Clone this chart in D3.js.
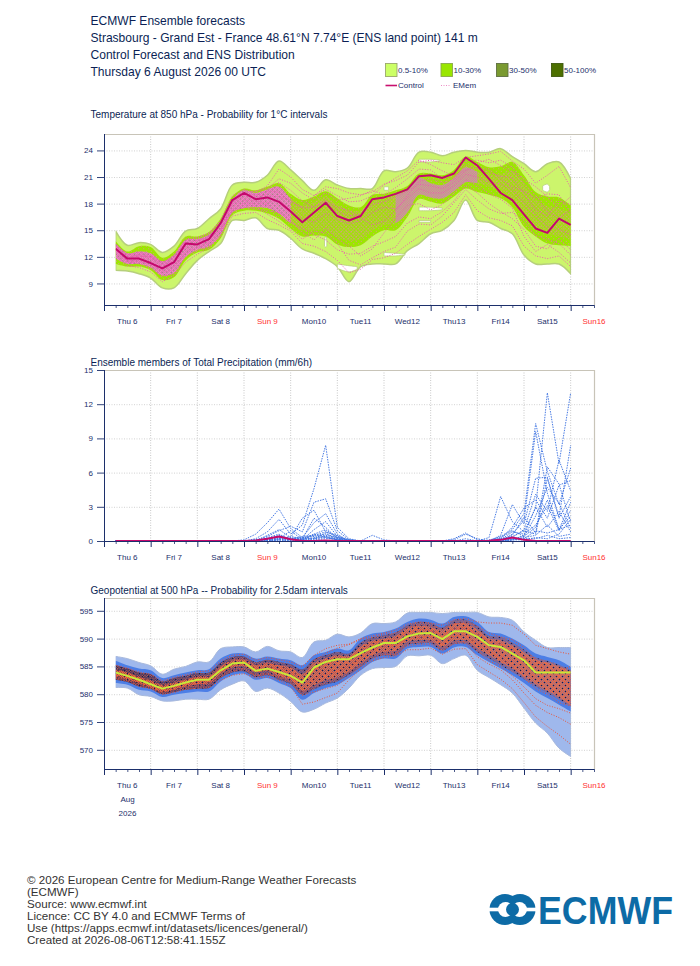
<!DOCTYPE html>
<html><head><meta charset="utf-8">
<script src="https://cdn.jsdelivr.net/npm/d3@7"></script>
<style>html,body{margin:0;padding:0;background:#fff}svg{display:block;font-family:"Liberation Sans",Arial,sans-serif}</style>
</head><body><svg id="c" width="700" height="966"></svg>
<script>
const stepHours=[6,12,18,24,30,36,42,48,54,60,66,72,78,84,90,96,102,108,114,120,126,132,138,144,150,156,162,168,174,180,186,192,198,204,210,216,222,228,234,240];
const dayLabels=["Thu 6","Fri 7","Sat 8","Sun 9","Mon10","Tue11","Wed12","Thu13","Fri14","Sat15","Sun16"];
const headerLines=["ECMWF Ensemble forecasts","Strasbourg - Grand Est - France 48.61°N 7.74°E (ENS land point) 141 m","Control Forecast and ENS Distribution","Thursday 6 August 2026 00 UTC"];
const footerLines=["© 2026 European Centre for Medium-Range Weather Forecasts","(ECMWF)","Source: www.ecmwf.int","Licence: CC BY 4.0 and ECMWF Terms of","Use (https://apps.ecmwf.int/datasets/licences/general/)","Created at 2026-08-06T12:58:41.155Z"];
const legendBands=["0.5-10%","10-30%","30-50%","50-100%"];
const tempTicks=[9,12,15,18,21,24], rainTicks=[0,3,6,9,12,15], geoTicks=[570,575,580,585,590,595];

// Temperature 850 hPa
const tControl=[12.9,11.8,11.8,11.3,10.7,11.4,13.5,13.4,14.0,15.8,18.4,19.2,18.5,18.7,18.2,17.1,15.9,17.0,18.1,16.6,16.1,16.6,18.5,18.7,19.1,19.6,21.1,21.2,20.9,21.4,23.2,22.3,20.8,19.2,18.4,16.8,15.2,14.7,16.3,15.6];
const tOuterHi=[14.9,13.3,13.6,13.4,12.5,13.2,14.9,15.2,16.3,17.4,20.1,20.4,20.4,21.2,22.8,21.8,20.6,19.5,20.7,20.1,19.7,19.7,19.7,21.7,21.6,22.0,23.8,23.8,23.4,23.8,24.0,23.8,23.8,24.2,23.3,22.5,21.6,22.5,22.7,20.8];
const tOuterLo=[10.5,10.4,10.1,9.6,8.5,8.5,10.1,11.6,12.6,13.5,16.1,16.1,16.4,15.2,15.0,14.1,12.9,12.4,11.8,10.9,9.2,10.9,11.2,11.2,11.2,12.7,13.5,14.6,15.0,16.1,18.4,16.1,15.9,15.2,14.6,12.2,11.2,11.2,11.2,10.1];
const tMidHi=[13.8,12.6,13.2,13.1,11.9,12.6,14.3,14.3,14.8,16.3,18.8,19.7,19.5,19.9,20.3,19.1,18.4,18.8,19.4,18.6,17.8,17.6,19.0,19.1,19.5,20.0,21.4,21.4,21.2,21.8,23.3,22.7,22.1,22.2,22.7,21.2,19.3,18.8,18.7,17.8];
const tMidLo=[11.2,10.9,10.9,10.5,9.4,9.7,11.6,12.5,12.8,14.1,16.7,17.2,17.2,16.9,16.3,15.2,14.3,14.4,14.3,13.4,13.1,13.3,14.3,15.0,15.0,16.5,18.5,18.2,18.0,18.8,19.7,19.3,19.0,18.6,17.6,15.4,14.3,13.5,13.3,13.2];
const tCoreHi=[13.5,12.4,12.6,12.4,11.5,12.2,13.9,14.0,14.5,15.9,18.4,19.5,19.2,19.6,19.9,18.6,17.8,18.2,18.8,17.9,17.3,17.2,18.4,18.6,19.0,19.5,20.9,20.3,20.1,20.9,22.1,21.6,21.3,21.3,21.7,20.2,18.5,17.7,17.5,16.8];
const tCoreLo=[11.8,11.2,11.2,10.8,9.9,10.2,12.0,12.8,13.2,14.5,17.0,17.5,17.6,17.5,16.9,15.8,15.0,15.0,15.0,14.2,13.8,14.0,15.0,15.6,15.8,17.0,19.0,18.7,18.6,19.4,20.4,20.3,19.9,19.5,18.5,16.5,15.3,14.6,14.3,14.0];
const tMem1=[13.4,12.2,12.5,12.2,11.4,12.0,13.8,14.1,14.6,16.2,18.9,19.6,19.3,20.0,21.9,21.0,19.6,18.9,19.9,19.7,19.2,19.0,19.3,20.2,20.6,21.2,22.7,22.9,22.6,22.4,23.2,23.4,23.6,23.9,22.8,21.9,20.3,21.2,22.2,19.8];
const tMem2=[12.2,11.0,10.8,10.3,9.2,9.9,11.4,12.3,13.0,14.3,16.6,16.9,17.0,16.2,15.6,14.9,13.5,13.2,12.6,11.6,10.2,10.6,11.7,11.9,12.4,13.4,14.3,15.1,15.9,17.0,19.0,17.2,16.4,16.1,15.5,13.2,12.1,11.8,12.1,10.9];
const tMem3=[13.1,12.0,12.2,11.7,10.9,11.8,13.2,13.7,14.2,15.4,17.9,18.8,18.9,19.4,19.3,18.2,17.6,18.9,19.6,18.9,18.2,18.3,18.9,20.1,20.9,21.7,22.9,22.4,21.7,21.1,21.8,22.0,21.5,21.1,20.9,19.1,17.3,16.6,18.3,17.9];
const tMem4=[12.6,11.5,11.6,11.0,10.2,10.6,12.6,13.1,13.7,15.0,17.4,18.1,18.0,17.9,16.5,15.9,15.2,14.5,13.9,12.8,12.3,12.4,13.2,13.7,14.3,15.8,16.5,16.3,17.1,18.3,20.1,19.2,18.0,17.1,16.3,15.1,13.2,12.9,14.1,12.8];
const tMem5=[12.9,11.7,12.1,11.9,11.1,11.5,13.4,13.9,14.4,15.7,18.2,19.0,18.7,19.1,20.4,19.5,18.3,17.6,18.4,17.1,16.6,16.8,17.9,18.2,18.8,19.4,20.2,20.0,19.7,20.4,21.7,22.6,23.0,22.3,21.6,20.8,19.9,18.8,17.6,18.8];
const tMem6=[12.4,11.4,11.3,10.7,9.8,10.1,12.1,12.7,13.1,14.6,17.1,17.6,17.4,17.2,17.0,16.1,14.8,13.9,15.2,14.1,13.2,12.1,12.9,14.7,16.4,17.8,18.0,17.3,17.9,19.2,20.7,20.0,19.1,18.5,17.5,14.3,12.6,13.4,12.5,11.3];
const tMem7=[13.2,12.1,11.9,11.5,10.6,11.1,12.9,13.5,14.1,15.1,17.7,18.4,18.3,18.1,18.4,17.4,16.3,15.9,16.9,16.2,15.7,16.1,17.0,17.6,17.4,18.6,19.7,19.2,19.2,20.0,21.3,21.0,20.4,20.2,19.6,18.1,16.7,15.4,15.1,14.5];
const tMem8=[12.7,11.9,12.3,12.0,11.2,11.9,13.6,13.8,14.3,15.6,18.0,19.1,19.0,18.9,18.8,18.4,17.5,17.6,18.3,17.6,17.2,16.4,15.6,16.0,17.2,18.9,20.5,20.8,20.4,20.7,22.4,21.9,21.9,20.8,19.9,19.4,18.6,19.1,19.0,16.9];
const tMem9=[13.0,11.6,11.5,11.2,10.4,10.9,12.4,13.0,13.5,14.8,17.2,17.9,17.7,16.8,16.0,15.1,14.0,14.9,14.7,13.5,11.6,11.1,11.9,12.6,13.1,14.9,15.7,15.6,16.6,18.1,19.6,18.4,17.4,16.9,17.0,16.1,14.4,14.0,13.5,12.2];
const tMem10=[13.3,12.3,12.0,12.1,11.3,12.1,14.0,14.2,14.7,16.0,18.6,19.3,19.4,19.7,20.8,20.3,19.2,18.4,19.2,18.4,18.6,18.9,19.5,19.0,19.8,20.8,21.9,21.8,20.8,20.9,22.8,22.9,22.6,22.9,22.1,20.3,18.9,17.1,16.4,17.3];
const tMembers=[tMem1,tMem2,tMem3,tMem4,tMem5,tMem6,tMem7,tMem8,tMem9,tMem10];
// white gaps in the 0.5-10% band: [step, low, high] rows
const tGaps=[
 [[27,22.7,23.0],[28,22.7,23.0],[28.8,22.8,22.9]],
 [[27,17.2,17.6],[28,17.2,17.6],[29,17.3,17.5]],
 [[27,15.9,16.1],[28,15.9,16.1]],
 [[20,10.7,11.2],[21,10.3,11.0],[21.7,10.6,10.9]],
 [[24,12.1,12.5],[25,12.1,12.4],[25.8,12.2,12.3]],
 [[18.9,13.2,13.8],[19,13.1,14.4],[19.1,13.2,13.8]],
 [[37.6,19.5,20.0],[38,19.3,20.2],[38.2,19.6,19.9]],
 [[24,19.5,19.9],[24.4,19.5,19.9]]
];

// Precipitation members (mm/6h)
const pControl=[0,0,0,0,0,0,0,0,0,0,0,0,0.05,0.2,0.4,0.15,0,0,0.05,0,0,0,0,0,0,0,0,0,0,0,0,0,0.02,0.1,0.3,0.1,0,0,0,0];
const pMem1=[0,0,0,0,0,0,0,0,0,0,0,0.1,0.6,1.6,2.8,1.1,0.3,0.2,0.4,0.1,0,0,0,0,0,0,0,0,0,0,0,0,0.1,0.3,0.9,0.4,1.2,3.6,1.0,2.2];
const pMem2=[0,0,0,0,0,0,0,0,0,0,0,0,0.2,0.8,1.9,0.6,1.4,4.6,8.4,1.2,0.2,0,0,0,0,0,0,0,0,0,0,0,0,0.4,1.0,2.4,10.3,6.1,3.2,6.4];
const pMem3=[0,0,0,0,0,0,0,0,0,0,0,0,0.1,0.4,0.9,1.3,0.8,3.4,3.7,0.9,0.1,0,0,0,0,0,0,0,0,0,0,0,0.3,3.9,1.7,0.8,2.9,13.0,6.8,13.0];
const pMem4=[0,0,0,0,0,0,0,0,0,0,0,0,0,0.5,1.0,0.3,2.0,2.7,0.8,0.4,0.1,0,0,0,0,0,0,0,0,0,0,0,0,0.5,3.2,1.5,5.5,5.6,2.1,8.4];
const pMem5=[0,0,0,0,0,0,0,0,0,0,0,0,0,0.1,0.4,0.2,0.3,1.6,2.4,0.6,0,0,0,0,0,0,0,0,0,0.1,0.6,0.2,0,0.2,1.2,2.9,3.6,2.0,4.9,5.3];
const pMem6=[0,0,0,0,0,0,0,0,0,0,0,0,0,0,0.2,0.9,0.1,0.6,1.0,0.3,0,0,0.5,0.1,0,0,0,0,0,0.2,0.7,0.1,0,0,0.6,1.8,9.6,4.2,1.0,3.4];
const pMem7=[0,0,0,0,0,0,0,0,0,0,0,0,0,0,0.1,0.3,0.1,1.0,1.7,0.4,0,0,0,0,0,0,0,0,0,0,0.2,0,0,0.1,0.5,2.1,0.7,6.5,5.0,1.6];
const pMem8=[0,0,0,0,0,0,0,0,0,0,0,0,0.1,0.2,0.5,0.2,0.4,0.5,0.6,0.3,0.1,0,0,0,0,0,0,0,0,0,0,0,0,0.2,0.3,1.0,4.1,2.6,7.1,4.4];
const pMem9=[0,0,0,0,0,0,0,0,0,0,0,0,0,0.1,0.2,0.4,0.2,2.0,1.2,0.2,0,0,0,0,0,0,0,0,0,0,0,0,0,0.1,0.8,0.6,1.4,3.1,0.9,2.7];
const pMem10=[0,0,0,0,0,0,0,0,0,0,0,0,0,0.3,0.6,0.1,0.1,0.3,0.4,0.2,0,0,0,0,0,0,0,0,0,0,0,0,0,0,0.2,0.4,2.2,4.7,3.3,1.1];
const pMem11=[0,0,0,0,0,0,0,0,0,0,0,0,0,0.2,0.3,0.1,0.2,0.6,0.3,0.1,0,0,0,0,0,0,0,0,0,0,0,0,0,0.2,0.4,0.9,0.6,5.5,2.0,3.9];
const pMem12=[0,0,0,0,0,0,0,0,0,0,0,0,0,0,0.1,0,0,0.2,0.7,0.1,0,0,0,0,0,0,0,0,0,0,0,0,0,0,0.1,0.5,3.0,1.2,2.6,0.8];
const pMem13=[0,0,0,0,0,0,0,0,0,0,0,0,0.1,0.1,0.3,0.2,0.1,0.5,0.8,0.5,0,0,0,0,0,0,0,0,0,0,0,0,0,0.1,0.2,0.2,0.9,0.7,1.0,1.4];
const pMem14=[0,0,0,0,0,0,0,0,0,0,0,0,0,0.1,0.2,0.1,0.3,0.4,0.5,0.3,0.1,0,0,0,0,0,0,0,0,0,0,0,0,0,0.1,0.3,0.5,1.4,0.4,0.6];
const pMem15=[0,0,0,0,0,0,0,0,0,0,0,0,0,0,0.1,0.1,0.2,0.2,0.3,0.1,0,0,0,0,0,0,0,0,0,0,0,0,0,0.1,0.1,0.1,0.3,0.2,0.6,1.9];
const pMem16=[0,0,0,0,0,0,0,0,0,0,0,0,0,0.1,0.1,0,0.1,0.1,0.2,0.2,0,0,0,0,0,0,0,0,0,0,0,0,0,0,0.1,0.2,0.2,0.5,0.2,0.3];
const pMembers=[pMem1,pMem2,pMem3,pMem4,pMem5,pMem6,pMem7,pMem8,pMem9,pMem10,pMem11,pMem12,pMem13,pMem14,pMem15,pMem16];

// Geopotential 500 hPa
const zControl=[583.9,583.3,582.6,581.8,581.0,581.5,582.1,582.6,582.6,584.3,585.5,585.7,584.2,584.6,584.0,583.3,582.1,584.8,585.8,586.3,586.3,587.4,588.4,589.2,589.2,590.4,590.9,591.0,589.9,591.3,591.3,590.3,588.8,588.5,587.3,586.1,583.9,583.9,583.9,583.9];
const zOuterHi=[586.8,586.4,585.7,585.1,583.6,584.5,585.0,585.8,585.8,588.2,588.5,588.5,587.6,588.6,587.8,587.6,586.6,589.4,589.7,590.8,590.3,591.0,592.7,592.7,593.0,594.6,594.7,594.7,594.5,594.7,594.7,594.7,593.9,593.8,593.3,591.2,589.7,588.4,588.4,588.4];
const zOuterLo=[581.2,581.1,579.9,579.6,578.8,578.8,579.1,579.1,579.1,580.8,581.8,582.4,580.5,581.1,580.2,578.7,576.8,577.3,578.4,579.3,581.1,583.4,584.6,584.8,585.0,586.9,586.9,587.0,585.5,586.4,587.0,584.3,583.0,581.7,580.2,577.5,574.8,573.0,570.3,568.8];
const zMidHi=[586.0,585.2,584.6,584.3,582.9,583.4,583.9,584.3,584.5,586.4,587.3,587.3,586.4,586.8,586.4,586.1,585.2,587.0,587.6,588.2,587.9,590.0,590.9,591.2,591.8,593.0,593.6,593.4,592.7,593.9,594.0,593.0,591.2,590.9,590.0,588.8,587.3,586.7,586.1,584.9];
const zMidLo=[582.0,581.7,580.8,580.5,579.5,579.9,580.2,580.5,580.5,582.3,583.4,583.7,582.6,582.9,582.0,581.1,579.0,580.2,581.1,581.7,582.9,584.3,585.8,586.4,586.4,588.2,588.5,588.5,587.3,588.4,588.5,587.0,585.8,584.6,583.4,582.0,580.5,579.3,578.1,576.9];
const zDarkHi=[585.2,584.6,583.9,583.6,582.3,582.9,583.3,583.8,583.9,585.7,586.7,586.8,585.8,586.2,585.8,585.4,584.5,586.3,587.0,587.6,587.3,589.3,590.2,590.6,591.1,592.4,593.0,592.8,592.0,593.3,593.4,592.3,590.5,590.3,589.3,588.0,586.6,586.0,585.3,584.4];
const zDarkLo=[582.6,582.2,581.4,581.0,580.0,580.4,580.8,581.0,581.1,582.9,583.9,584.1,583.1,583.4,582.6,581.8,579.9,580.9,581.7,582.3,583.5,584.9,586.4,587.0,587.0,588.8,589.1,589.1,587.9,589.0,589.1,587.6,586.4,585.2,584.0,582.7,581.4,580.2,579.0,577.8];
const zCoreHi=[584.5,583.9,583.1,582.5,581.6,582.0,582.6,583.1,583.2,584.9,586.0,586.2,585.2,585.5,585.2,584.8,583.6,585.6,586.4,587.0,586.9,588.6,589.6,590.0,590.5,591.8,592.3,592.1,591.5,592.6,592.7,591.6,590.0,589.7,588.7,587.5,586.2,585.7,585.0,584.2];
const zCoreLo=[583.2,582.7,582.0,581.2,580.4,580.9,581.4,581.8,582.0,583.7,584.8,585.0,584.0,584.2,583.2,582.6,580.6,581.6,582.5,583.0,584.1,585.5,587.0,587.6,587.8,589.4,589.7,589.7,588.5,589.6,589.7,588.2,587.0,585.8,584.6,583.2,581.8,580.6,579.4,578.0];
const zMem1=[585.2,584.7,584.0,583.6,582.4,583.0,583.5,584.0,584.2,586.0,587.0,587.2,586.1,586.6,586.2,585.8,585.0,587.0,588.2,588.8,589.0,590.0,590.5,591.0,591.5,592.6,593.0,592.8,592.4,593.4,593.6,593.0,592.8,592.8,592.4,590.8,588.8,588.2,587.6,587.2];
const zMem2=[582.8,582.4,581.4,581.0,580.0,580.3,580.9,581.1,581.2,582.5,583.4,583.7,582.9,583.1,582.5,581.4,578.2,578.6,579.4,580.2,582.6,584.5,586.0,586.6,586.9,588.0,588.0,588.3,587.2,588.1,588.2,585.3,584.0,582.7,581.0,578.5,575.9,574.2,572.7,571.0];
const zMem3=[583.0,582.6,581.8,581.2,580.3,580.8,581.2,581.5,581.8,583.1,584.2,584.5,583.3,583.6,583.0,582.2,579.8,580.4,581.0,581.6,583.2,585.0,586.3,587.1,587.2,588.7,589.0,589.0,587.8,589.1,589.2,586.7,585.4,584.4,582.6,580.2,578.0,576.7,575.8,574.6];
const zMem4=[584.3,583.8,583.0,582.3,581.5,582.1,582.6,583.1,583.3,585.0,586.2,586.4,585.2,585.6,585.0,584.3,583.0,586.0,587.4,588.3,588.9,589.9,590.2,590.8,591.0,592.0,592.5,592.4,591.6,592.7,592.9,592.2,591.0,590.3,589.8,588.4,586.2,584.6,583.0,581.4];
const zMem5=[583.5,583.0,582.3,581.5,580.7,581.2,581.8,582.3,582.4,584.0,585.1,585.4,584.0,584.4,583.6,582.9,581.0,582.8,583.6,584.1,585.0,586.5,587.9,588.6,588.8,590.0,590.2,590.4,589.0,590.4,590.6,589.0,587.6,586.6,585.0,583.0,581.0,580.0,578.5,577.9];
const zMem6=[584.0,583.5,582.8,582.0,581.1,581.6,582.2,582.8,582.8,584.5,585.6,585.9,584.6,585.0,584.5,583.9,582.4,584.4,585.3,586.2,586.5,588.0,589.2,589.6,590.0,591.1,591.7,591.5,590.6,591.8,592.0,590.9,589.5,589.0,588.2,586.8,585.2,584.4,584.2,585.0];
const zMem7=[583.2,582.9,582.1,581.3,580.5,581.0,581.5,581.9,582.1,583.4,584.5,584.7,583.5,583.8,583.2,582.4,580.3,581.3,582.2,582.8,583.9,585.4,586.8,587.4,587.5,589.1,589.4,589.6,588.2,589.4,589.5,587.8,586.0,585.0,583.3,581.3,579.2,578.0,577.4,576.6];
const zMembers=[zMem1,zMem2,zMem3,zMem4,zMem5,zMem6,zMem7];

const svg=d3.select("#c");
const navy="#1c2f6b", white="#fff";
const x=d3.scaleLinear().domain([0,252]).range([104,594]);
const defs=svg.append("defs");
function dots(id,color,size,r,bg){
  const p=defs.append("pattern").attr("id",id).attr("width",size).attr("height",size).attr("patternUnits","userSpaceOnUse");
  if(bg)p.append("rect").attr("width",size).attr("height",size).attr("fill",bg);
  p.append("circle").attr("cx",size*0.25).attr("cy",size*0.25).attr("r",r).attr("fill",color);
  p.append("circle").attr("cx",size*0.75).attr("cy",size*0.75).attr("r",r).attr("fill",color);
}
dots("pinkLight","#f07cc0",5,0.5);
dots("pinkMed","#f07cc0",3.4,0.55);
dots("pinkDense","#ea70b8",2.0,0.72,"#ee9ac8");
dots("pinkMix","#e86fb6",2.4,0.7);
dots("greyDots","#6f8a58",4.6,0.6);
dots("redDots","#ec6a44",2.6,0.7);
dots("redDense","#f26c40",2.0,0.72);
dots("navySpeck","#101c50",6,0.75);
const gr=defs.append("linearGradient").attr("id","zDarkFill").attr("gradientUnits","userSpaceOnUse").attr("x1",x(6)).attr("x2",x(240)).attr("y1",0).attr("y2",0);
gr.append("stop").attr("offset","0").attr("stop-color","#14235f");
gr.append("stop").attr("offset","0.3").attr("stop-color","#2a4499");
gr.append("stop").attr("offset","1").attr("stop-color","#416fd6");
[["early",6,96],["midT",150,192]].forEach(c=>defs.append("clipPath").attr("id",c[0]).append("rect").attr("x",x(c[1])).attr("width",x(c[2])-x(c[1])).attr("y",100).attr("height",220));

function frame(top,bottom,domain,ticks,id){
  const y=d3.scaleLinear().domain(domain).range([bottom,top]);
  const g=svg.append("g");
  g.append("g").selectAll("line").data(ticks).join("line")
    .attr("x1",104).attr("x2",594).attr("y1",d=>y(d)+.5).attr("y2",d=>y(d)+.5)
    .attr("stroke","#c6c6c6").attr("stroke-width",.8).attr("stroke-dasharray","1 1.5");
  g.append("g").selectAll("line").data(d3.range(24,241,24)).join("line")
    .attr("x1",d=>x(d)).attr("x2",d=>x(d)).attr("y1",top).attr("y2",bottom)
    .attr("stroke","#c2c2c2").attr("stroke-width",.9).attr("stroke-dasharray","1 1.5");
  g.append("path").attr("d",`M104,${top+.5}H594.5V${bottom}`).attr("fill","none").attr("stroke","#c8c4b8").attr("stroke-width",1.2);
  return {y,g,top,bottom,ticks,id};
}
function finish(f,labelY){
  const {y,top,bottom,ticks}=f;
  const ax=svg.append("g").attr("transform","translate(104,0)").call(d3.axisLeft(y).tickValues(ticks).tickSize(7).tickFormat(d3.format("d")));
  ax.select(".domain").attr("stroke",navy).attr("d",`M0.5,${top}V${bottom}`);
  ax.selectAll("line").attr("stroke",navy).attr("stroke-width",.9);
  ax.selectAll("text").attr("fill",navy).attr("font-size",8).attr("x",-11).attr("font-family","Liberation Sans");
  const maj=svg.append("g").attr("transform",`translate(0,${bottom})`).call(d3.axisBottom(x).tickValues(d3.range(0,241,24)).tickSize(6).tickFormat(""));
  maj.select(".domain").attr("stroke",navy).attr("d","M104,0.5H594");
  maj.selectAll("line").attr("stroke",navy).attr("stroke-width",1);
  const mnr=svg.append("g").attr("transform",`translate(0,${bottom})`).call(d3.axisBottom(x).tickValues(d3.range(6,253,6).filter(h=>h%24)).tickSize(3).tickFormat(""));
  mnr.select(".domain").remove();
  mnr.selectAll("line").attr("stroke",navy).attr("stroke-width",.8);
  svg.append("g").selectAll("text").data(dayLabels).join("text")
    .attr("x",(d,i)=>x(12+24*i)).attr("y",labelY).attr("text-anchor","middle").attr("font-size",8)
    .attr("fill",d=>d.startsWith("Sun")?"#ff3030":navy).text(d=>d);
}
function band(g,y,hi,lo,fill,stroke,sw){
  const a=d3.area().x((d,i)=>x(stepHours[i])).y0((d,i)=>y(lo[i])).y1(d=>y(d)).curve(d3.curveCatmullRom.alpha(.5));
  g.append("path").datum(hi).attr("d",a).attr("fill",fill).attr("stroke",stroke||"none").attr("stroke-width",sw||0).attr("stroke-linejoin","round");
}
function lines(g,y,sets,color,w,dash,op){
  const l=d3.line().x((d,i)=>x(stepHours[i])).y(d=>y(d));
  g.append("g").selectAll("path").data(sets).join("path").attr("d",l).attr("fill","none")
    .attr("stroke",color).attr("stroke-width",w).attr("stroke-dasharray",dash).attr("opacity",op||1).attr("stroke-linejoin","round");
}
function clip(f){
  const cid="clip"+f.id;
  defs.append("clipPath").attr("id",cid).append("rect").attr("x",x(6)).attr("width",x(240)-x(6)+.5).attr("y",f.top).attr("height",f.bottom-f.top);
  return f.g.append("g").attr("clip-path",`url(#${cid})`);
}

// Header
svg.append("g").selectAll("text").data(headerLines).join("text")
  .attr("x",90.5).attr("y",(d,i)=>25+i*17).attr("font-size",12.05).attr("fill","#0b1f55").text(d=>d);
// Legend
const legFill=["#ccff66","#99e600","#7a9a30","#4d7000"],legStroke=["#9aa86a","#8aa84a","#5e7040","#3f5a10"],legX=[385.5,441,496.5,551.5];
const leg=svg.append("g");
leg.selectAll("rect").data(legendBands).join("rect").attr("x",(d,i)=>legX[i]).attr("y",63.5).attr("width",11.5).attr("height",13)
  .attr("fill",(d,i)=>legFill[i]).attr("stroke",(d,i)=>legStroke[i]).attr("stroke-width",.9);
leg.selectAll("text").data(legendBands).join("text").attr("x",(d,i)=>legX[i]+12.5).attr("y",72.5).attr("font-size",8).attr("fill",navy).text(d=>d);
leg.append("line").attr("x1",385.5).attr("x2",397).attr("y1",85.5).attr("y2",85.5).attr("stroke","#c8106e").attr("stroke-width",1.6);
leg.append("line").attr("x1",441).attr("x2",451).attr("y1",85.5).attr("y2",85.5).attr("stroke","#ec8cc4").attr("stroke-width",1).attr("stroke-dasharray","1 1.5");
leg.append("text").attr("x",398).attr("y",88).attr("font-size",8).attr("fill",navy).text("Control");
leg.append("text").attr("x",453).attr("y",88).attr("font-size",8).attr("fill",navy).text("EMem");

const titles=[["Temperature at 850 hPa - Probability for 1°C intervals",118],["Ensemble members of Total Precipitation (mm/6h)",366],["Geopotential at 500 hPa -- Probability for 2.5dam intervals",594]];
svg.append("g").selectAll("text").data(titles).join("text").attr("x",90.5).attr("y",d=>d[1]).attr("font-size",10).attr("fill","#0b1f55").text(d=>d[0]);

// Panel 1
const f1=frame(134,305,[6.57,25.85],tempTicks,"a");
{
  const g=clip(f1),y=f1.y;
  band(g,y,tOuterHi,tOuterLo,"#ccf56c","#b6cf7c",1.5);
  const ga=d3.area().x(d=>x(d[0]*6)).y0(d=>y(d[1])).y1(d=>y(d[2])).curve(d3.curveCatmullRom);
  g.append("g").selectAll("path").data(tGaps).join("path").attr("d",ga).attr("fill",white).attr("stroke","#b6cf7c").attr("stroke-width",.8);
  band(g,y,tMidHi,tMidLo,"#9ce600");
  band(g,y,tMidHi,tMidLo,"url(#pinkLight)");
  band(g,y,tCoreHi,tCoreLo,"url(#pinkMed)");
  const early=g.append("g").attr("clip-path","url(#early)");
  band(early,y,tCoreHi,tCoreLo,"url(#pinkDense)");
  band(early,y,tCoreHi,tCoreLo,"url(#greyDots)");
  const mid=g.append("g").attr("clip-path","url(#midT)");
  band(mid,y,tCoreHi,tCoreLo,"#a9c070");
  band(mid,y,tCoreHi,tCoreLo,"url(#pinkMix)");
  lines(g,y,tMembers,"#ea5cae",1,"1 1.6");
  lines(g,y,[tControl],"#c4086c",2,null);
}
finish(f1,324);

// Panel 2
const f2=frame(370,541,[0,15],rainTicks,"b");
{
  const g=f2.g,y=f2.y;
  lines(g,y,pMembers,"#3f74e2",.95,"1.5 1.1");
  lines(g,y,[pControl],"#c4086c",2,null);
}
finish(f2,560);

// Panel 3
const f3=frame(598,769,[566.55,597.3],geoTicks,"c");
{
  const g=clip(f3),y=f3.y;
  band(g,y,zOuterHi,zOuterLo,"#9fb8ec","#a8b9dc",1);
  band(g,y,zMidHi,zMidLo,"#4c7ee6");
  band(g,y,zDarkHi,zDarkLo,"url(#zDarkFill)");
  band(g,y,zDarkHi,zDarkLo,"url(#redDots)");
  band(g,y,zCoreHi,zCoreLo,"url(#redDense)");
  band(g,y,zDarkHi,zDarkLo,"url(#navySpeck)");
  lines(g,y,zMembers,"#e8553a",1,"1 1.6");
  lines(g,y,[zControl],"#c8e838",2,null);
}
finish(f3,788);
svg.append("text").attr("x",127.5).attr("y",802).attr("text-anchor","middle").attr("font-size",8).attr("fill",navy).text("Aug");
svg.append("text").attr("x",127.5).attr("y",816).attr("text-anchor","middle").attr("font-size",8).attr("fill",navy).text("2026");

// Footer
svg.append("g").selectAll("text").data(footerLines).join("text")
  .attr("x",27).attr("y",(d,i)=>884+i*12).attr("font-size",11.6).attr("fill","#333").text(d=>d);

// Logo
const blue="#0d6ba6",logo=svg.append("g");
logo.selectAll("circle.o").data([505,520]).join("circle").attr("class","o").attr("cx",d=>d).attr("cy",909.5).attr("r",15.5).attr("fill",blue);
logo.append("ellipse").attr("cx",505.5).attr("cy",909.5).attr("rx",7.5).attr("ry",7.5).attr("fill",white);
logo.append("ellipse").attr("cx",519.5).attr("cy",909.5).attr("rx",7.5).attr("ry",7.5).attr("fill",white);
logo.append("circle").attr("cx",512.5).attr("cy",909.5).attr("r",6.5).attr("fill",blue);
logo.append("rect").attr("x",489).attr("y",907.7).attr("width",13).attr("height",3.6).attr("fill",white);
logo.append("rect").attr("x",523).attr("y",907.7).attr("width",13).attr("height",3.6).attr("fill",white);
logo.append("text").attr("x",538).attr("y",924).attr("font-size",39).attr("font-weight",700).attr("fill",blue)
  .attr("textLength",135).attr("lengthAdjust","spacingAndGlyphs").text("ECMWF");
</script></body></html>
